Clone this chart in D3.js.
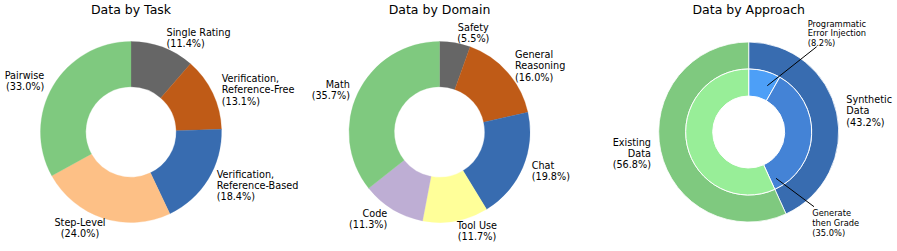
<!DOCTYPE html>
<html>
<head>
<meta charset="utf-8">
<script src="https://cdn.jsdelivr.net/npm/d3@7"></script>
<style>
  html, body { margin: 0; padding: 0; background: #fff; }
  svg { display: block; font-family: "DejaVu Sans", sans-serif; }
</style>
</head>
<body>
<svg id="chart" width="897" height="251"></svg>
<script>
// ---------- data ----------
const taskCategories = ["Single Rating", "Verification,\nReference-Free", "Verification,\nReference-Based", "Step-Level", "Pairwise"];
const taskValues = [11.4, 13.1, 18.4, 24.0, 33.0];

const domainCategories = ["Safety", "General\nReasoning", "Chat", "Tool Use", "Code", "Math"];
const domainValues = [5.5, 16.0, 19.8, 11.7, 11.3, 35.7];

const approachOuterCategories = ["Synthetic\nData", "Existing\nData"];
const approachOuterValues = [43.2, 56.8];
const approachInnerCategories = ["Programmatic\nError Injection", "Generate\nthen Grade", "Existing Data"];
const approachInnerValues = [8.2, 35.0, 56.8];

const titles = ["Data by Task", "Data by Domain", "Data by Approach"];

// ---------- styles / layout ----------
const accent = {green: "#7fc97f", purple: "#beaed4", orange: "#fdc086", yellow: "#ffff99",
                blue: "#386cb0", brown: "#bf5b17", gray: "#666666"};
const taskColors = [accent.gray, accent.brown, accent.blue, accent.orange, accent.green];
const domainColors = [accent.gray, accent.brown, accent.blue, accent.yellow, accent.purple, accent.green];
const outerColors = [accent.blue, accent.green];
const innerColors = ["#4d9ff7", "#4483d6", "#98ee98"];

const R = 90.5;
const centers = [{x: 131, y: 132}, {x: 439.5, y: 132}, {x: 748.7, y: 132}];
const labelFont = 9.7, labelLH = 11.4, smallFont = 8.3, smallLH = 9.8, titleFont = 12.5;

// label placement relative to each chart's centre (layout only)
const taskLabelPos = [
  {dx: 35.5, dy: -96, anchor: "start"},
  {dx: 90.7, dy: -50, anchor: "start"},
  {dx: 85.7, dy: 45.5, anchor: "start"},
  {dx: -51, dy: 94, anchor: "middle"},
  {dx: -86.7, dy: -53, anchor: "end"}
];
const domainLabelPos = [
  {dx: 33.8, dy: -101.5, anchor: "middle"},
  {dx: 75.5, dy: -74, anchor: "start"},
  {dx: 92.2, dy: 37, anchor: "start"},
  {dx: 37.5, dy: 97, anchor: "middle"},
  {dx: -52.2, dy: 85, anchor: "end"},
  {dx: -89.5, dy: -44.5, anchor: "end"}
];
const outerLabelPos = [
  {dx: 97.6, dy: -29, anchor: "start"},
  {dx: -97.7, dy: 13.5, anchor: "end"}
];
const innerLabelPos = [
  {dx: 59, dy: -105.5, anchor: "start", line: [18.6, -46.3, 68, -85.3]},
  {dx: 63.6, dy: 84.3, anchor: "start", line: [27.3, 46.3, 65.3, 74.7]},
  null
];

const svg = d3.select("#chart");
const pie = d3.pie().sort(null).value(d => d);

function labelText(name, v) {
  return name.split("\n").concat(["(" + v.toFixed(1) + "%)"]);
}

function drawLabel(g, lines, pos, fs, lh) {
  const t = g.append("text")
    .attr("text-anchor", pos.anchor)
    .attr("font-size", fs)
    .attr("fill", "#000");
  lines.forEach((ln, i) => {
    t.append("tspan").attr("x", pos.dx).attr("y", pos.dy + i * lh).text(ln);
  });
}

function drawTitle(g, text) {
  g.append("text").attr("x", 0).attr("y", 14 - 132)
    .attr("text-anchor", "middle").attr("font-size", titleFont).attr("fill", "#000")
    .text(text);
}

function donut(idx, cats, vals, colors, positions) {
  const c = centers[idx];
  const g = svg.append("g").attr("transform", `translate(${c.x},${c.y})`);
  const arc = d3.arc().innerRadius(R * 0.5).outerRadius(R);
  g.selectAll("path.w").data(pie(vals)).join("path")
    .attr("class", "w")
    .attr("d", arc)
    .attr("fill", (d, i) => colors[i])
    .attr("stroke", (d, i) => colors[i]).attr("stroke-width", 0.3);
  cats.forEach((name, i) => drawLabel(g, labelText(name, vals[i]), positions[i], labelFont, labelLH));
  drawTitle(g, titles[idx]);
}

donut(0, taskCategories, taskValues, taskColors, taskLabelPos);
donut(1, domainCategories, domainValues, domainColors, domainLabelPos);

// nested donut
(function () {
  const c = centers[2];
  const r = 90;
  const g = svg.append("g").attr("transform", `translate(${c.x},${c.y})`);
  const outerArc = d3.arc().innerRadius(r * 0.7).outerRadius(r);
  const innerArc = d3.arc().innerRadius(r * 0.4).outerRadius(r * 0.7);
  g.selectAll("path.o").data(pie(approachOuterValues)).join("path")
    .attr("class", "o").attr("d", outerArc)
    .attr("fill", (d, i) => outerColors[i])
    .attr("stroke", "#fff").attr("stroke-width", 0.8);
  g.selectAll("path.in").data(pie(approachInnerValues)).join("path")
    .attr("class", "in").attr("d", innerArc)
    .attr("fill", (d, i) => innerColors[i])
    .attr("stroke", "#fff").attr("stroke-width", 1);
  approachOuterCategories.forEach((name, i) =>
    drawLabel(g, labelText(name, approachOuterValues[i]), outerLabelPos[i], labelFont, labelLH));
  approachInnerCategories.forEach((name, i) => {
    const p = innerLabelPos[i];
    if (!p) return;
    g.append("line")
      .attr("x1", p.line[0]).attr("y1", p.line[1])
      .attr("x2", p.line[2]).attr("y2", p.line[3])
      .attr("stroke", "#000").attr("stroke-width", 1);
    drawLabel(g, labelText(name, approachInnerValues[i]), p, smallFont, smallLH);
  });
  drawTitle(g, titles[2]);
})();
</script>
</body>
</html>
